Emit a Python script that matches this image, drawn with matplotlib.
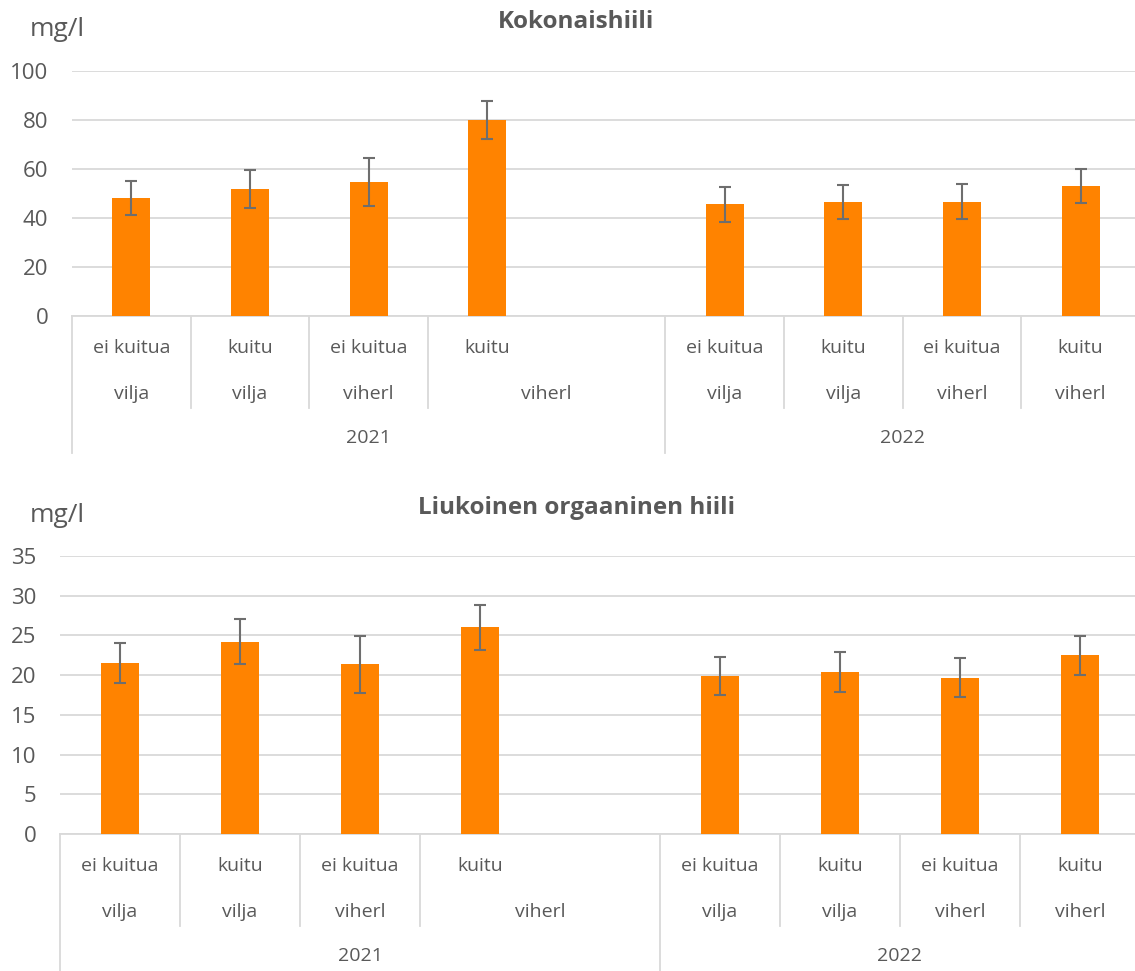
import numpy as np
import matplotlib
matplotlib.use("Agg")
import matplotlib.pyplot as plt

# Luokat (9 paikkaa, 5. paikka tyhjä kuten Excelissä)
kuitu = ["ei kuitua", "kuitu", "ei kuitua", "kuitu", "", "ei kuitua", "kuitu", "ei kuitua", "kuitu"]
kasvi = ["vilja", "vilja", "viherl", "viherl", "viherl", "vilja", "vilja", "viherl", "viherl"]
vuosi = ["2021", "2021", "2021", "2021", "2021", "2022", "2022", "2022", "2022"]

# Kokonaishiili (mg/l) ja keskihajonta
toc = [48.2, 51.8, 54.7, 80.0, np.nan, 45.6, 46.4, 46.7, 53.2]
toc_err = [7.0, 7.7, 9.6, 7.8, np.nan, 7.1, 7.0, 7.0, 7.0]

# Liukoinen orgaaninen hiili (mg/l) ja keskihajonta
doc = [21.5, 24.2, 21.35, 26.0, np.nan, 19.9, 20.4, 19.7, 22.5]
doc_err = [2.5, 2.85, 3.6, 2.85, np.nan, 2.4, 2.5, 2.4, 2.45]

TEKSTI = "#595959"
RUUDUKKO = "#d9d9d9"
ORANSSI = "#ff8300"
VIRHE = "#6e6e6e"

plt.rcParams["font.family"] = ["Open Sans", "DejaVu Sans"]

W, H = 1135, 971
fig = plt.figure(figsize=(W / 100, H / 100), dpi=100)


def piirra(rect, arvot, virheet, ymax, askel, otsikko, otsikko_y, yksikko_y):
    ax = fig.add_axes(rect)
    x = np.arange(len(arvot))
    ax.bar(x, arvot, width=0.32, color=ORANSSI, zorder=3)
    ax.errorbar(x, arvot, yerr=virheet, fmt="none", ecolor=VIRHE,
                elinewidth=1.5, capsize=4.3, capthick=1.5, zorder=4)
    ax.set_xlim(-0.5, len(arvot) - 0.5)
    ax.set_ylim(0, ymax)
    ax.set_yticks(np.arange(0, ymax + 0.1, askel))
    ax.grid(axis="y", color=RUUDUKKO, lw=1.3, zorder=0)
    for s in ["top", "right", "left"]:
        ax.spines[s].set_visible(False)
    ax.spines["bottom"].set_color(RUUDUKKO)
    ax.spines["bottom"].set_linewidth(1.3)
    ax.set_xticks([])
    ax.tick_params(axis="y", length=0, pad=17, labelsize=16, labelcolor=TEKSTI)

    # pikselisiirtymät akselin alapuolelle -> akselin osuus
    h_px = rect[3] * H
    def fy(px):
        return -px / h_px

    tr = ax.get_xaxis_transform()
    n = len(arvot)
    # pystyviivat
    rajat = [(-0.5, 137)]
    for i in range(1, n):
        if vuosi[i] != vuosi[i - 1]:
            rajat.append((i - 0.5, 137))
        elif kuitu[i] == "":
            continue
        else:
            rajat.append((i - 0.5, 92))
    rajat.append((n - 0.5, 137))
    for xr, syv in rajat:
        ax.plot([xr, xr], [0, fy(syv)], transform=tr, color=RUUDUKKO,
                lw=1.3, clip_on=False)

    # rivi 1: kuitu
    for i in range(n):
        if kuitu[i]:
            ax.text(i, fy(32), kuitu[i], transform=tr, ha="center", va="center",
                    fontsize=14, color=TEKSTI)
    # rivi 2: kasvi (tyhjä kuitu yhdistyy edelliseen)
    i = 0
    while i < n:
        j = i
        while j + 1 < n and kuitu[j + 1] == "" and vuosi[j + 1] == vuosi[i]:
            j += 1
        ax.text((i + j) / 2, fy(78), kasvi[i], transform=tr, ha="center",
                va="center", fontsize=14, color=TEKSTI)
        i = j + 1
    # rivi 3: vuosi
    for v in dict.fromkeys(vuosi):
        idx = [k for k in range(n) if vuosi[k] == v]
        ax.text((idx[0] + idx[-1]) / 2, fy(122), v, transform=tr, ha="center",
                va="center", fontsize=14, color=TEKSTI)

    fig.text(576 / W, 1 - otsikko_y / H, otsikko, ha="center", va="center",
             fontsize=17.5, fontweight="bold", color=TEKSTI)
    fig.text(30 / W, 1 - yksikko_y / H, "mg/l", ha="left", va="center",
             fontsize=19, color=TEKSTI)
    return ax


piirra([72 / W, 1 - 316 / H, 1068 / W, 245 / H], toc, toc_err, 100, 20,
       "Kokonaishiili", 22, 30)
piirra([60 / W, 1 - 834 / H, 1080 / W, 278 / H], doc, doc_err, 35, 5,
       "Liukoinen orgaaninen hiili", 508, 516)

fig.savefig("out.png", dpi=100, facecolor="white")
